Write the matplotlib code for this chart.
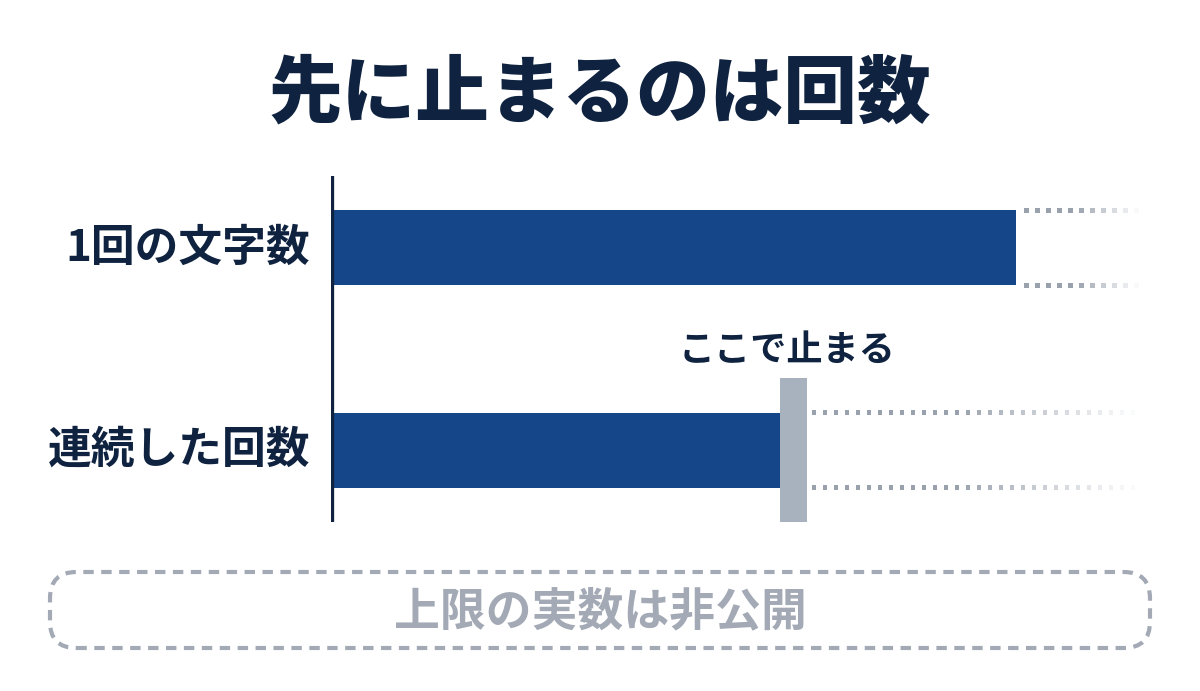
import matplotlib
matplotlib.use("Agg")
import matplotlib.pyplot as plt
from matplotlib.patches import FancyBboxPatch
import numpy as np

plt.rcParams['font.family'] = ['Noto Sans CJK JP', 'DejaVu Sans']

# data
title = "先に止まるのは回数"
categories = ["1回の文字数", "連続した回数"]
values = [100, 65.5]          # relative length
stop_value = 65.5             # where the limit stops the second bar
stop_label = "ここで止まる"
note = "上限の実数は非公開"

navy = "#0f2340"
bar_color = "#16468a"
stop_color = "#a8b1be"
dot_color = np.array([0.60, 0.63, 0.68])
note_color = "#a3aab5"

W, H = 1200, 691
fig = plt.figure(figsize=(W / 100, H / 100), dpi=100)
fig.patch.set_facecolor("white")

# main axes: left edge at the vertical line, right at fade end
x0, x1 = 331, 1140
y_top, y_bot = 176, 522
ax = fig.add_axes([x0 / W, 1 - y_bot / H, (x1 - x0) / W, (y_bot - y_top) / H])
xmax = (x1 - x0) / (1018 - 333) * 100
ax.set_xlim(0, xmax)
ax.set_ylim(1.356, -0.356)
ax.axis("off")

ypos = np.arange(len(categories))
bar_h = 0.371
ax.barh(ypos, values, height=bar_h, color=bar_color, zorder=2)

# vertical axis line
ax.axvline(0, color=navy, lw=3.8, zorder=3)

# limit marker
ax.bar(stop_value, 0.72, bottom=0.644, width=4.0, align="edge",
       color=stop_color, zorder=4)
ax.text(stop_value + 1.0, 0.60, stop_label, ha="center", va="bottom",
        fontsize=26, fontweight="bold", color=navy)

# fading dotted guide lines
px_per_unit = (x1 - x0) / xmax
step = 11 / px_per_unit
for i, v in enumerate(values):
    start = v + (1.5 if i == 0 else 5.0)
    xs = np.arange(start, xmax, step)
    frac = (xs - start) / (xmax - start)
    alpha = np.clip(1.0 - np.clip((frac - 0.45) / 0.55, 0, 1) ** 0.9, 0.05, 1)
    cols = np.column_stack([np.tile(dot_color, (len(xs), 1)), alpha])
    for yy in (i - bar_h / 2, i + bar_h / 2):
        ax.scatter(xs, np.full(len(xs), yy), marker="s", s=11, c=cols,
                   linewidths=0, zorder=1)

# category labels
for i, c in enumerate(categories):
    ax.text(-0.026 * xmax, i, c, ha="right", va="center", fontsize=31.5,
            fontweight="bold", color=navy)

# title
fig.text(0.5, 1 - 95 / H, title, ha="center", va="center", fontsize=53,
         fontweight="heavy", color=navy)

# dashed rounded note box
box = FancyBboxPatch((50 / W, 1 - 648 / H), 1100 / W, 76 / H,
                     boxstyle="round,pad=0,rounding_size=0.022",
                     transform=fig.transFigure, fill=False,
                     edgecolor="#a3aab5", lw=3.0, linestyle=(0, (2.5, 1.8)),
                     mutation_aspect=W / H)
fig.patches.append(box)
fig.text(0.5, 1 - 612 / H, note, ha="center", va="center", fontsize=33,
         fontweight="bold", color=note_color)

fig.savefig("out.png", dpi=100, facecolor="white")
